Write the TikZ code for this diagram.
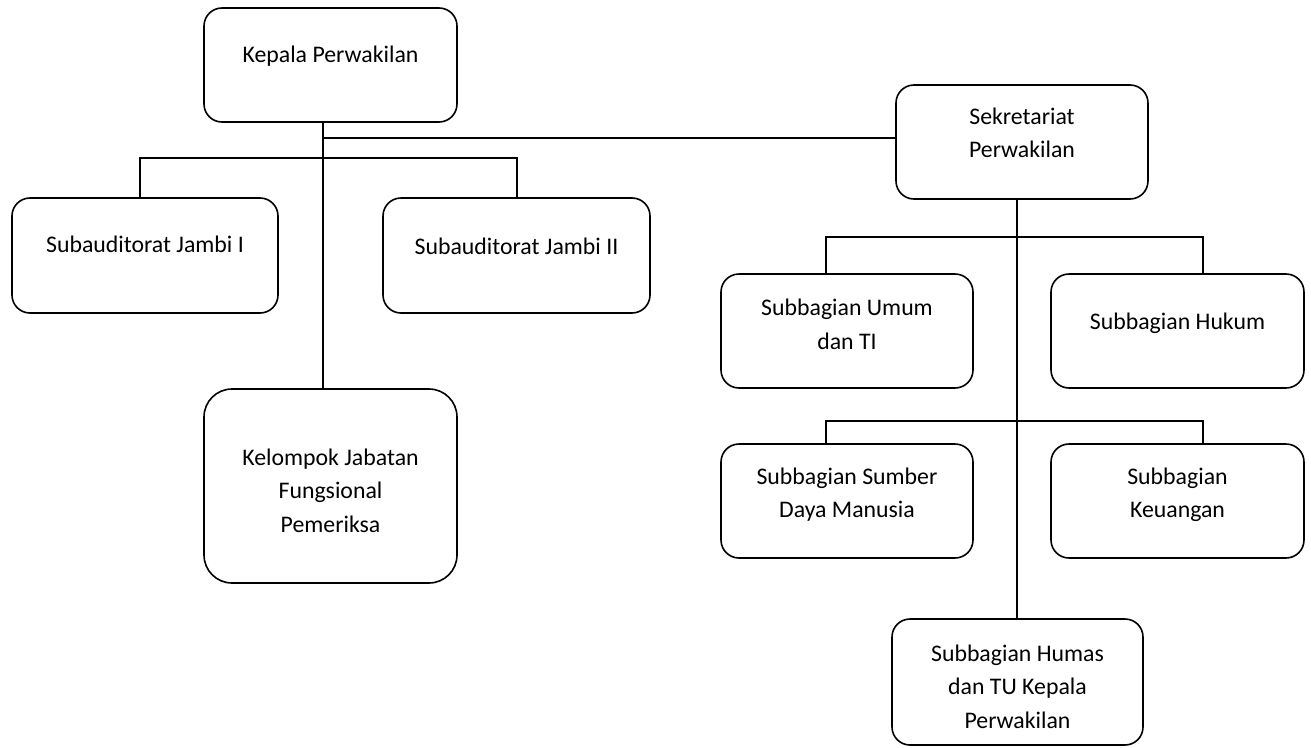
\documentclass[tikz,border=0pt]{standalone}
\usepackage{fontspec}
\setmainfont{Carlito}
\begin{document}
\begin{tikzpicture}[x=1pt,y=-1pt,
  unit/.style={draw, line width=1.6pt, rounded corners=18pt, inner sep=0pt},
  lbl/.style={font=\fontsize{23.8}{33.5}\selectfont, align=center, anchor=base, inner sep=0pt},
  conn/.style={line width=1.6pt}]
\useasboundingbox (0,0) rectangle (1311,747);
% boxes
\node[unit, minimum width=253pt, minimum height=114pt] (kp) at (330.5,65) {};
\node[unit, minimum width=266pt, minimum height=115pt] (j1) at (145,255.5) {};
\node[unit, minimum width=267pt, minimum height=115pt] (j2) at (516.5,255.5) {};
\node[unit, rounded corners=28pt, minimum width=253pt, minimum height=194pt] (kl) at (330.5,486) {};
\node[unit, minimum width=252pt, minimum height=114pt] (sk) at (1022,142) {};
\node[unit, minimum width=252pt, minimum height=114pt] (um) at (847,331) {};
\node[unit, minimum width=253pt, minimum height=114pt] (hk) at (1177.5,331) {};
\node[unit, minimum width=252pt, minimum height=114pt] (sd) at (847,501) {};
\node[unit, minimum width=253pt, minimum height=114pt] (ku) at (1177.5,501) {};
\node[unit, minimum width=251pt, minimum height=126pt] (hm) at (1017.5,682) {};
% labels (anchor at baseline of last line)
\node[lbl] (kpT) at (330.5,62.5) {Kepala Perwakilan};
\node[lbl] (j1T) at (145,252) {Subauditorat Jambi I};
\node[lbl] (j2T) at (516.5,254) {Subauditorat Jambi II};
\node[lbl] (klT) at (330.5,532) {Kelompok Jabatan\\Fungsional\\Pemeriksa};
\node[lbl] (skT) at (1022,157.5) {Sekretariat\\Perwakilan};
\node[lbl] (umT) at (847,349) {Subbagian Umum\\dan TI};
\node[lbl] (hkT) at (1177.5,329.5) {Subbagian Hukum};
\node[lbl] (sdT) at (847,517.5) {Subbagian Sumber\\Daya Manusia};
\node[lbl] (kuT) at (1177.5,517.5) {Subbagian\\Keuangan};
\node[lbl] (hmT) at (1017.5,728) {Subbagian Humas\\dan TU Kepala\\Perwakilan};
% connector helpers
\path ([xshift=-7.5pt]kp.south) coordinate (kps)
      ([xshift=-7.5pt]kl.north) coordinate (kln)
      ([xshift=-5pt]j1.north) coordinate (j1t)
      ([xshift=0.5pt]j2.north) coordinate (j2t)
      ([xshift=-0.5pt]hm.north) coordinate (hmt)
      ([xshift=-21pt]um.north) coordinate (umt)
      ([xshift=25.5pt]hk.north) coordinate (hkt)
      ([xshift=-21pt]sd.north) coordinate (sdt)
      ([xshift=25.5pt]ku.north) coordinate (kut);
\coordinate (hA) at (0,138);
\coordinate (hB) at (0,158);
\coordinate (r1) at (0,237);
\coordinate (r2) at (0,421);
% connectors
\draw[conn] (kps) -- (kln);
\draw[conn] (kps |- hA) -- (sk.west |- hA);
\draw[conn] (j1t) -- (j1t |- hB) -- (j2t |- hB) -- (j2t);
\draw[conn] (sk.south -| hmt) -- (hmt);
\draw[conn] (umt) -- (umt |- r1) -- (hkt |- r1) -- (hkt);
\draw[conn] (sdt) -- (sdt |- r2) -- (kut |- r2) -- (kut);
\end{tikzpicture}
\end{document}
